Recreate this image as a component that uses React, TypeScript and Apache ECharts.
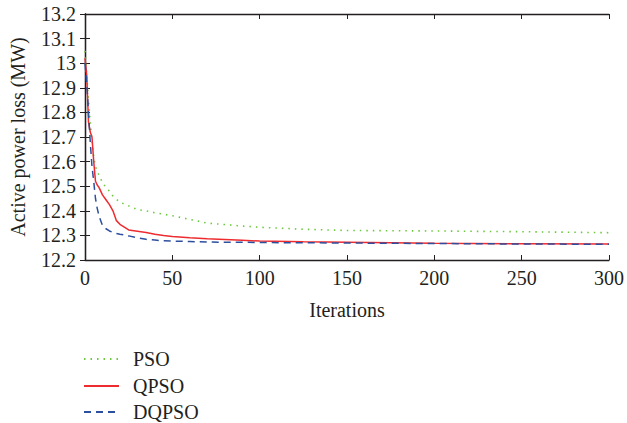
import React, { useEffect, useRef } from "react";
import * as echarts from "echarts";

const iterations = [0, 1, 2, 3, 4, 5, 6, 7, 8, 9, 10, 12, 14, 16, 18, 20, 25, 30, 35, 40, 45, 50, 60, 70, 80, 90, 100, 125, 150, 175, 200, 250, 300];

const psoValues = [13.05, 12.95, 12.85, 12.76, 12.68, 12.62, 12.58, 12.56, 12.545, 12.53, 12.515, 12.495, 12.48, 12.46, 12.447, 12.435, 12.42, 12.405, 12.4, 12.392, 12.386, 12.38, 12.365, 12.35, 12.344, 12.338, 12.333, 12.325, 12.32, 12.319, 12.318, 12.315, 12.311];

const qpsoValues = [13.02, 12.95, 12.76, 12.72, 12.7, 12.6, 12.52, 12.505, 12.495, 12.48, 12.465, 12.445, 12.425, 12.4, 12.36, 12.345, 12.322, 12.317, 12.312, 12.305, 12.3, 12.296, 12.29, 12.286, 12.283, 12.28, 12.277, 12.274, 12.272, 12.27, 12.268, 12.266, 12.265];

const dqpsoValues = [13.0, 12.92, 12.8, 12.68, 12.58, 12.52, 12.45, 12.41, 12.38, 12.36, 12.34, 12.327, 12.318, 12.312, 12.308, 12.305, 12.298, 12.29, 12.284, 12.281, 12.278, 12.277, 12.275, 12.273, 12.272, 12.272, 12.271, 12.27, 12.269, 12.268, 12.267, 12.265, 12.264];

const seriesNames = ["PSO", "QPSO", "DQPSO"];

const FONT = "Liberation Serif";
const AXIS_COLOR = "#231f20";

const pairs = (vals: number[]) => iterations.map((x, i) => [x, vals[i]]);

export default function App() {
  const ref = useRef<HTMLDivElement>(null);
  useEffect(() => {
    document.body.style.margin = "0";
    if (!ref.current) return;
    const chart = echarts.init(ref.current, undefined, { renderer: "svg" });
    const axisLine = { show: true, lineStyle: { color: AXIS_COLOR, width: 1.3 } };
    const axisTick = { show: true, inside: true, length: 5, lineStyle: { color: AXIS_COLOR, width: 1 } };
    const labelStyle = { color: "#231f20", fontFamily: FONT, fontSize: 20 };
    const legendBase = (name: string, top: number) => ({
      data: [name],
      orient: "vertical",
      left: 83,
      top,
      itemWidth: 35,
      itemHeight: 14,
      padding: 0,
      itemStyle: { opacity: 0 },
      textStyle: { color: "#231f20", fontFamily: FONT, fontSize: 20, padding: [0, 0, 0, 9] },
    });
    chart.setOption({
      animation: false,
      backgroundColor: "#ffffff",
      grid: { left: 83, right: 15, top: 14, bottom: 163, containLabel: false },
      legend: [legendBase("PSO", 349), legendBase("QPSO", 376), legendBase("DQPSO", 402)],
      xAxis: [
        {
          type: "value",
          min: 0,
          max: 300,
          interval: 50,
          position: "bottom",
          name: "Iterations",
          nameLocation: "middle",
          nameGap: 40,
          nameTextStyle: labelStyle,
          axisLine,
          axisTick,
          axisLabel: { ...labelStyle, margin: 8 },
          splitLine: { show: false },
        },
        {
          type: "value",
          min: 0,
          max: 300,
          interval: 50,
          position: "top",
          axisLine,
          axisTick,
          axisLabel: { show: false },
          splitLine: { show: false },
        },
      ],
      yAxis: [
        {
          type: "value",
          min: 12.2,
          max: 13.2,
          interval: 0.1,
          position: "left",
          name: "Active power loss (MW)",
          nameLocation: "middle",
          nameGap: 57,
          nameTextStyle: labelStyle,
          axisLine,
          axisTick,
          axisLabel: { ...labelStyle, margin: 9 },
          splitLine: { show: false },
        },
        {
          type: "value",
          min: 12.2,
          max: 13.2,
          interval: 0.1,
          position: "right",
          axisLine,
          axisTick,
          axisLabel: { show: false },
          splitLine: { show: false },
        },
      ],
      series: [
        {
          name: seriesNames[0],
          type: "line",
          data: pairs(psoValues),
          symbol: "none",
          lineStyle: { color: "#6cc93e", width: 1.6, type: [1.5, 5], cap: "butt" },
          itemStyle: { color: "#6cc93e" },
          z: 1,
        },
        {
          name: seriesNames[1],
          type: "line",
          data: pairs(qpsoValues),
          symbol: "none",
          lineStyle: { color: "#ee2b2f", width: 1.5, type: "solid" },
          itemStyle: { color: "#ee2b2f" },
          z: 2,
        },
        {
          name: seriesNames[2],
          type: "line",
          data: pairs(dqpsoValues),
          symbol: "none",
          lineStyle: { color: "#2d4f9f", width: 1.5, type: [7, 5] },
          itemStyle: { color: "#2d4f9f" },
          z: 3,
        },
      ],
    });
    return () => chart.dispose();
  }, []);
  return <div ref={ref} style={{ width: 627, height: 423 }} />;
}
